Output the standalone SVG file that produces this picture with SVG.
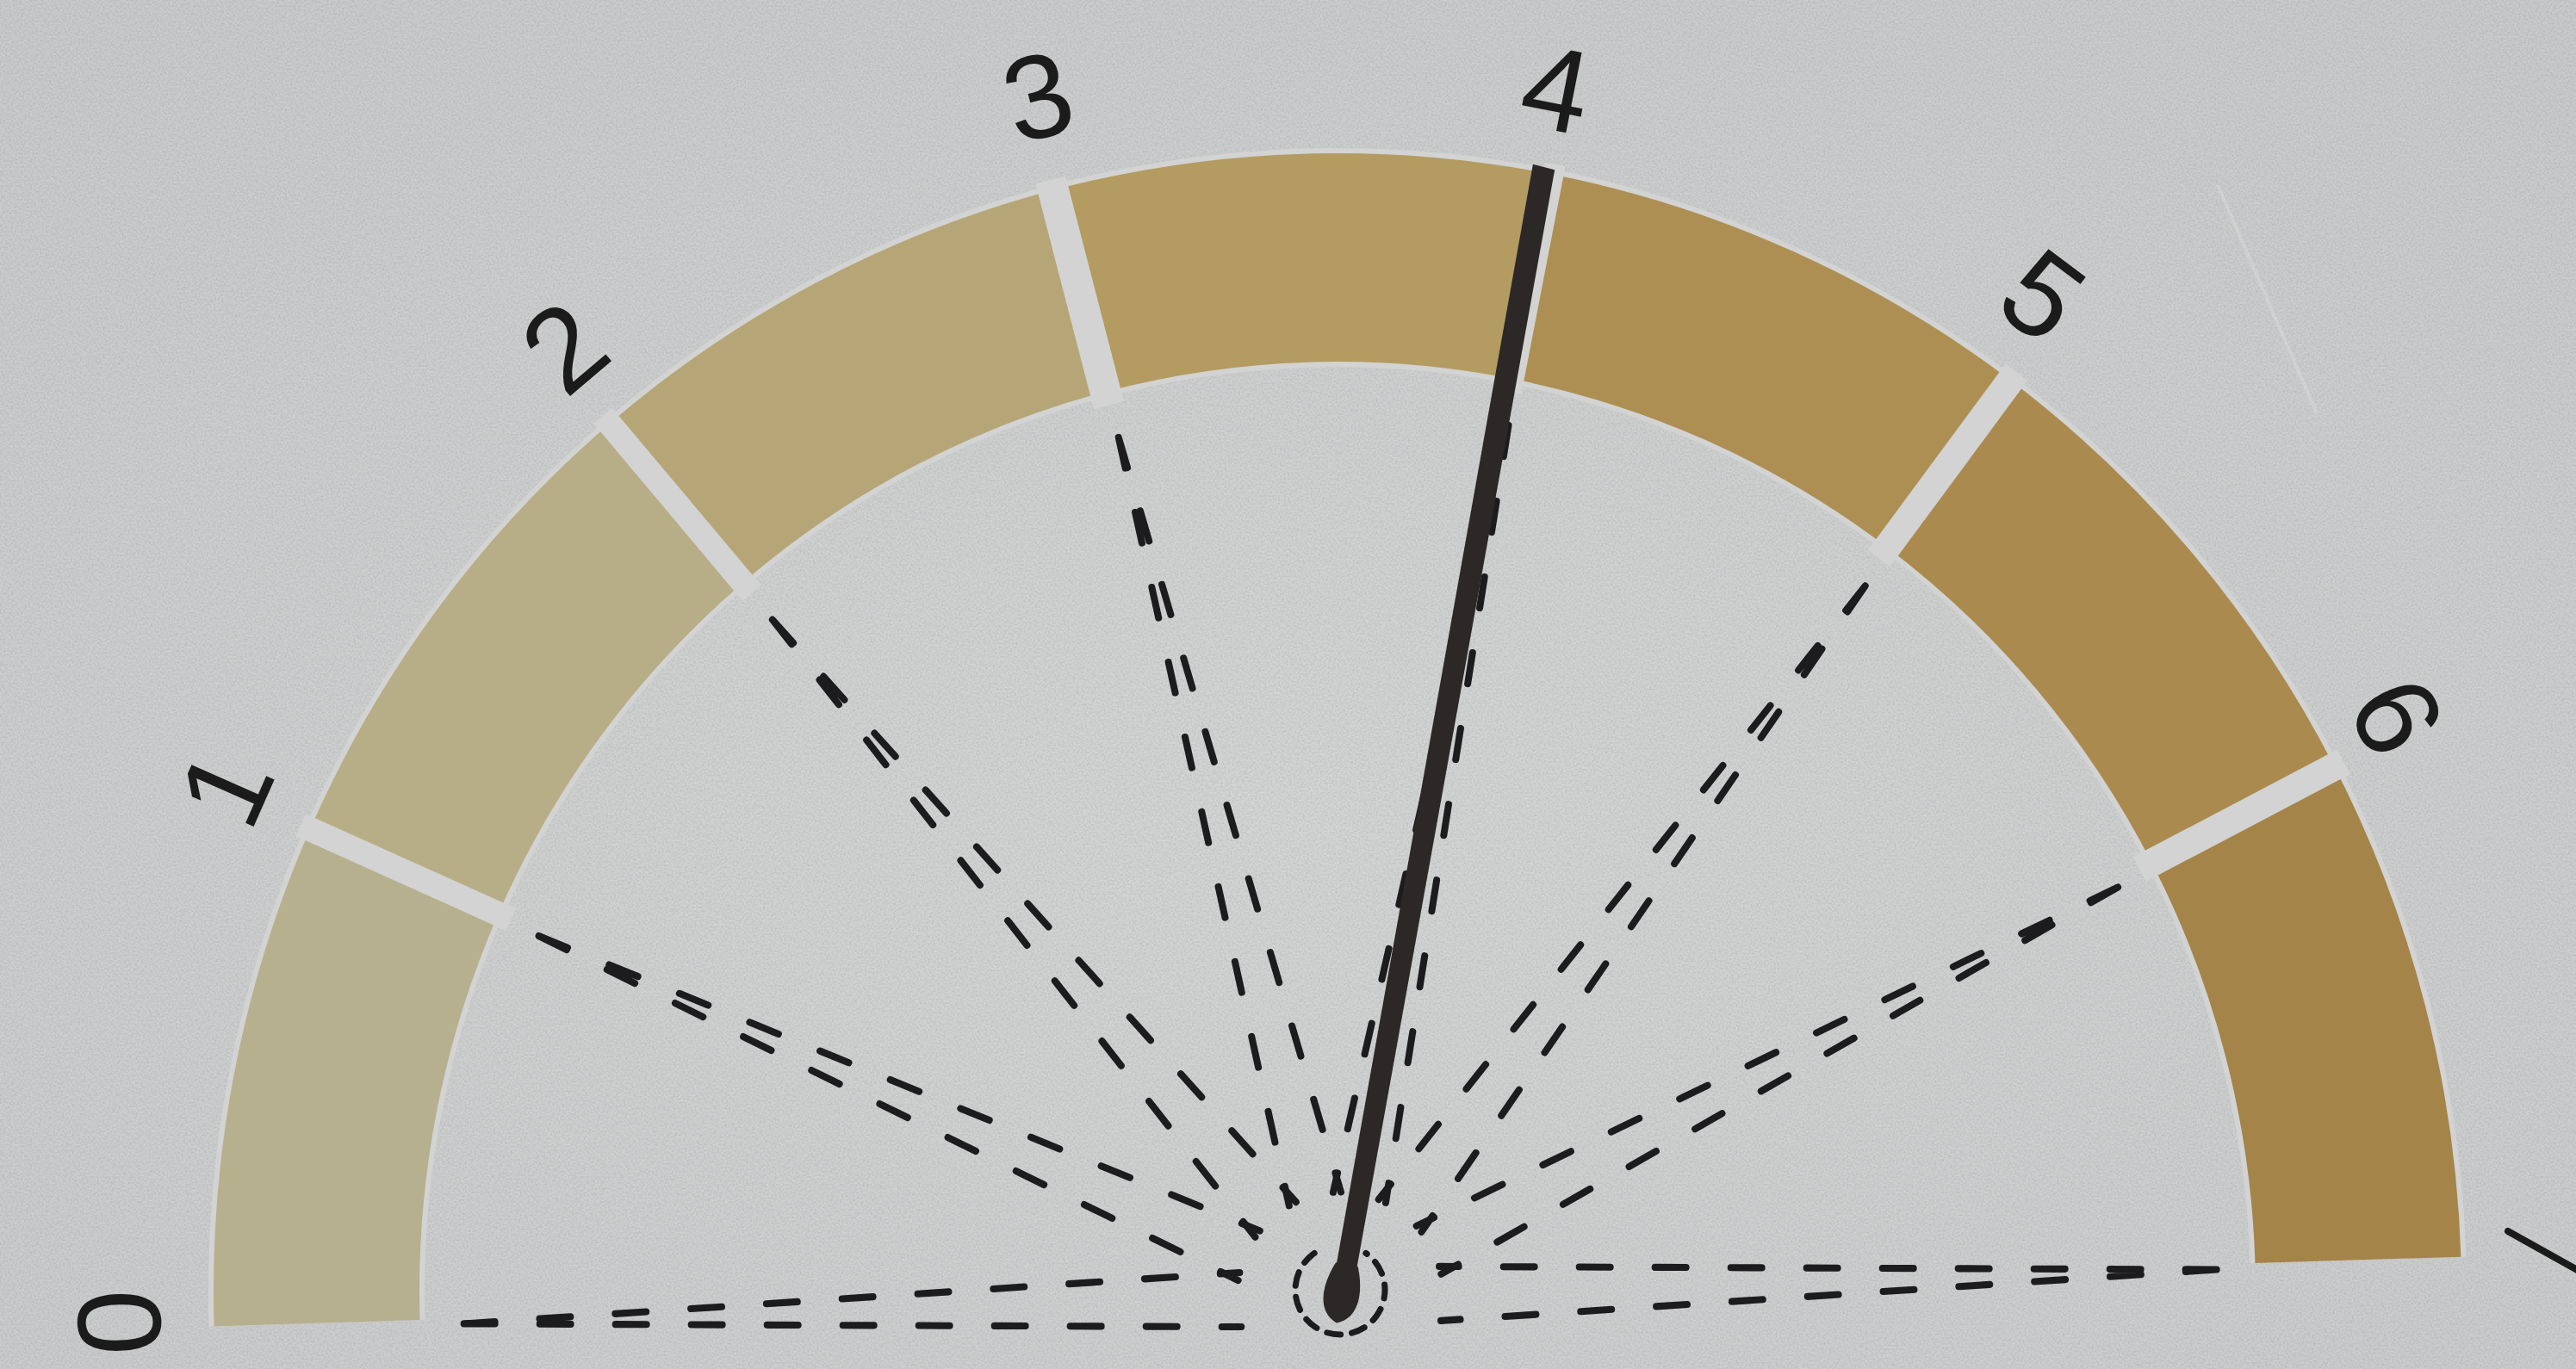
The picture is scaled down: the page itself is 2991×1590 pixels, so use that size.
<svg xmlns="http://www.w3.org/2000/svg" width="2991" height="1590" viewBox="0 0 2991 1590">
<defs>
  <radialGradient id="bg" cx="0.5" cy="0.6" r="0.8">
    <stop offset="0" stop-color="#d4d5d5"/>
    <stop offset="1" stop-color="#c8cacb"/>
  </radialGradient>
  <filter id="grain" x="0" y="0" width="100%" height="100%">
    <feTurbulence type="fractalNoise" baseFrequency="0.45" numOctaves="2" seed="7"/>
    <feColorMatrix type="matrix" values="0 0 0 0 0  0 0 0 0 0  0 0 0 0 0  0.35 0 0 0 -0.12"/>
  </filter>
  <style>
    .seg { stroke: none; }
    .gap { stroke: #d2d3d2; stroke-width: 32; stroke-linecap: butt; fill: none; }
    .ray { fill: none; stroke: #1c1c1e; stroke-width: 8; stroke-dasharray: 36 52; stroke-linecap: round; }
    .lbl { font-family: "Liberation Sans", Arial, sans-serif; font-size: 138px; fill: #1b1b1b; text-anchor: middle; dominant-baseline: central; }
  </style>
</defs>

<rect x="0" y="0" width="2991" height="1590" fill="url(#bg)"/>
<rect x="0" y="0" width="2991" height="1590" filter="url(#grain)" opacity="0.5"/>
<line x1="2575" y1="215" x2="2690" y2="480" stroke="#dcdddc" stroke-width="4" opacity="0.45"/>

<g id="scale" transform="translate(1553 1500) rotate(-1.77) scale(1 1.013)">
  <path id="halo" d="M -1311 0 A 1311 1311 0 0 1 1311 0 L 1060 0 A 1060 1060 0 0 0 -1060 0 Z" fill="#d2d3d2"/>
  <g id="seg0"><path class="seg" fill="#b6b08e" d="M -1305 0 A 1305 1305 0 0 1 -1175.8 -566.2 L -960.4 -462.5 A 1066 1066 0 0 0 -1066 0 Z"/></g>
  <g id="seg1"><path class="seg" fill="#b7ae87" d="M -1175.8 -566.2 A 1305 1305 0 0 1 -813.7 -1020.3 L -664.6 -833.4 A 1066 1066 0 0 0 -960.4 -462.5 Z"/></g>
  <g id="seg2"><path class="seg" fill="#b6a677" d="M -813.7 -1020.3 A 1305 1305 0 0 1 -290.4 -1272.3 L -237.2 -1039.3 A 1066 1066 0 0 0 -664.6 -833.4 Z"/></g>
  <g id="seg3"><path class="seg" fill="#b49b62" d="M -290.4 -1272.3 A 1305 1305 0 0 1 290.4 -1272.3 L 237.2 -1039.3 A 1066 1066 0 0 0 -237.2 -1039.3 Z"/></g>
  <g id="seg4"><path class="seg" fill="#ae8f53" d="M 290.4 -1272.3 A 1305 1305 0 0 1 813.7 -1020.3 L 664.6 -833.4 A 1066 1066 0 0 0 237.2 -1039.3 Z"/></g>
  <g id="seg5"><path class="seg" fill="#aa8a4e" d="M 813.7 -1020.3 A 1305 1305 0 0 1 1175.8 -566.2 L 960.4 -462.5 A 1066 1066 0 0 0 664.6 -833.4 Z"/></g>
  <g id="seg6"><path class="seg" fill="#a58449" d="M 1175.8 -566.2 A 1305 1305 0 0 1 1305 0 L 1066 0 A 1066 1066 0 0 0 960.4 -462.5 Z"/></g>
  <g id="gaps">
    <line class="gap" x1="-946.0" y1="-455.6" x2="-1186.6" y2="-571.4" style="stroke-width:28"/>
    <line class="gap" x1="-654.6" y1="-820.9" x2="-821.1" y2="-1029.6" style="stroke-width:28"/>
    <line class="gap" x1="-233.6" y1="-1023.7" x2="-293.1" y2="-1284.0" style="stroke-width:36"/>
    <line class="gap" x1="233.6" y1="-1023.7" x2="293.1" y2="-1284.0" style="stroke-width:24"/>
    <line class="gap" x1="654.6" y1="-820.9" x2="821.1" y2="-1029.6"/>
    <line class="gap" x1="946.0" y1="-455.6" x2="1186.6" y2="-571.4"/>
  </g>

  <g id="connectors">
    <path class="ray" d="M -1015 6 L -112.9 -25.1 M -1015 6 L -112.9 37.1"/>
    <path class="ray" d="M -914.2 -435.7 L -88.0 -72.3 M -914.2 -435.7 L -114.9 -16.3"/>
    <path class="ray" d="M -631.7 -789.9 L -45.0 -104.0 M -631.7 -789.9 L -93.6 -65.3"/>
    <path class="ray" d="M -223.5 -986.5 L 7.5 -113.9 M -223.5 -986.5 L -53.1 -100.1"/>
    <path class="ray" d="M 229.5 -986.5 L 59.1 -100.1 M 229.5 -986.5 L -1.5 -113.9"/>
    <path class="ray" d="M 637.7 -789.9 L 99.6 -65.3 M 637.7 -789.9 L 51.0 -104.0"/>
    <path class="ray" d="M 920.2 -435.7 L 120.9 -16.3 M 920.2 -435.7 L 94.0 -72.3"/>
    <path class="ray" d="M 1021 6 L 118.9 37.1 M 1021 6 L 118.9 -25.1"/>
  </g>
</g>

<g id="pivot-ring">
  <path d="M 1526.2 1455.4 A 52 52 0 1 0 1585.8 1455.4" fill="none" stroke="#1c1c1e" stroke-width="7" stroke-dasharray="16 13" stroke-linecap="round"/>
</g>

<g id="needle" transform="rotate(10.17 1557 1507)">
  <polygon points="1545,1490 1544,172 1570,174 1569,1490" fill="#2c2828"/>
  <path d="M 1544 1468 C 1533 1495 1531 1527 1557 1537 C 1583 1527 1581 1495 1570 1468 Z" fill="#2c2828"/>
</g>

<g id="labels">
  <g id="label-0"><text class="lbl" x="138" y="1536" transform="rotate(-91.8 138 1536)">0</text></g>
  <g id="label-1"><text class="lbl" x="262" y="915" transform="rotate(-66.1 262 915)">1</text></g>
  <g id="label-2"><text class="lbl" x="655" y="403" transform="rotate(-40.3 655 403)">2</text></g>
  <g id="label-3"><text class="lbl" x="1205" y="112" transform="rotate(-14.6 1205 112)">3</text></g>
  <g id="label-4"><text class="lbl" x="1807" y="103" transform="rotate(11.1 1807 103)">4</text></g>
  <g id="label-5"><text class="lbl" x="2372" y="343" transform="rotate(36.8 2372 343)">5</text></g>
  <g id="label-6"><text class="lbl" x="2783" y="832" transform="rotate(62.5 2783 832)">6</text></g>
  <line x1="2912" y1="1430" x2="2996" y2="1477" stroke="#1b1b1b" stroke-width="8" stroke-linecap="round"/>
</g>
</svg>
